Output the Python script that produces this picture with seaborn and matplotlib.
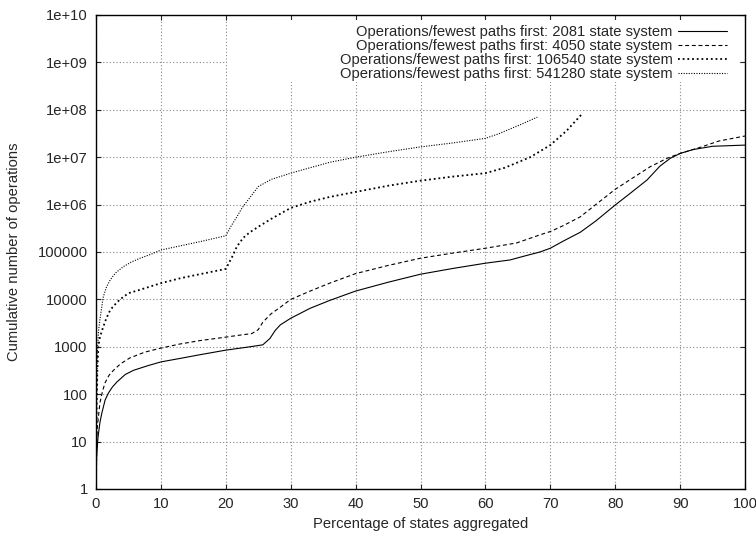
import numpy as np
import pandas as pd
import seaborn as sns
import matplotlib.pyplot as plt
from matplotlib.ticker import FuncFormatter, NullLocator, FixedLocator
from matplotlib.patches import Rectangle

# data
names = ['2081', '4050', '106540', '541280']

pct_2081 = [0, 0.1, 0.3, 0.6, 0.9, 1.4, 1.9, 2.5, 3.2, 4.5, 5.8, 8, 10, 13, 16, 20,
            23.7, 25.7, 26.8, 27.6, 28.4, 30, 33, 36, 40, 45, 50, 55, 60, 63.8, 66,
            68.4, 70, 72, 74.6, 77, 80, 82, 84.9, 86.9, 88.5, 90, 92, 95, 100]
ops_2081 = [1, 5, 12, 25, 40, 75, 105, 140, 180, 260, 320, 400, 480, 570, 680, 850,
            1000, 1100, 1500, 2200, 2900, 4000, 6500, 9500, 1.5e4, 2.3e4, 3.4e4, 4.5e4,
            5.8e4, 6.8e4, 8.2e4, 1e5, 1.2e5, 1.7e5, 2.6e5, 4.5e5, 9.8e5, 1.6e6, 3.3e6,
            6.5e6, 9.5e6, 1.2e7, 1.45e7, 1.7e7, 1.8e7]

pct_4050 = [0, 0.1, 0.2, 0.6, 1.0, 1.4, 2.0, 2.7, 3.8, 5.2, 7.5, 10, 13, 16, 20, 22,
            24, 25, 25.7, 27, 28.5, 30, 33, 36, 40, 45, 50, 55, 60, 64.8, 68.4, 70, 72,
            74.6, 77, 80, 82.5, 85.4, 88, 90, 93, 96, 100]
ops_4050 = [1, 8, 20, 65, 115, 175, 250, 320, 440, 580, 770, 940, 1150, 1350, 1600,
            1750, 1900, 2300, 3300, 5000, 7000, 1e4, 1.5e4, 2.2e4, 3.5e4, 5.2e4, 7.4e4,
            9.5e4, 1.2e5, 1.55e5, 2.3e5, 2.7e5, 3.6e5, 5.5e5, 1e6, 2.1e6, 3.5e6, 6.3e6,
            9.5e6, 1.2e7, 1.6e7, 2.2e7, 2.8e7]

pct_106540 = [0, 0.1, 0.2, 0.36, 0.6, 1.1, 1.6, 2.2, 3.0, 3.7, 5, 6.8, 10, 13, 16, 20,
              21, 21.7, 22.7, 23.7, 25, 27, 30, 33, 36, 40, 45, 50, 55, 60, 63, 66.9,
              70, 72.5, 75]
ops_106540 = [1, 50, 300, 1000, 1600, 2600, 4000, 6000, 8000, 1e4, 1.35e4, 1.6e4, 2.2e4,
              2.8e4, 3.4e4, 4.4e4, 8e4, 1.3e5, 2e5, 2.6e5, 3.4e5, 5e5, 8.5e5, 1.15e6,
              1.45e6, 1.85e6, 2.5e6, 3.2e6, 3.9e6, 4.6e6, 6e6, 1e7, 1.8e7, 3.6e7, 8.5e7]

pct_541280 = [0, 0.1, 0.2, 0.4, 0.6, 1.1, 1.6, 2.2, 3, 4.2, 5.5, 6.8, 8.5, 10, 13, 16, 20,
              20.8, 21.7, 22.5, 23.7, 25, 27, 30, 33, 36, 40, 45, 50, 55, 60, 62, 65.3, 68]
ops_541280 = [1, 100, 800, 2200, 3700, 1.1e4, 1.8e4, 2.6e4, 3.6e4, 4.9e4, 6.2e4, 7.4e4,
              9e4, 1.1e5, 1.35e5, 1.65e5, 2.2e5, 3.5e5, 5.5e5, 8.5e5, 1.4e6, 2.4e6, 3.4e6,
              4.6e6, 6e6, 7.8e6, 1e7, 1.3e7, 1.65e7, 2e7, 2.5e7, 3.1e7, 4.8e7, 7e7]

series = {
    '2081': (pct_2081, ops_2081),
    '4050': (pct_4050, ops_4050),
    '106540': (pct_106540, ops_106540),
    '541280': (pct_541280, ops_541280),
}

# line styles per series (gnuplot-like)
styles = {
    '2081': dict(lw=0.8, ls='-'),
    '4050': dict(lw=0.8, ls=(0, (3.5, 2.5))),
    '106540': dict(lw=1.3, ls=(0, (1, 1.6))),
    '541280': dict(lw=0.8, ls=(0, (1, 1.3))),
}

sns.set_style('ticks')
plt.rcParams['font.family'] = ['Liberation Sans', 'DejaVu Sans']
fs = 10.6

fig = plt.figure(figsize=(7.56, 5.38), dpi=100)
ax = fig.add_axes([96 / 756, 1 - 489 / 538, 649 / 756, 474 / 538])

for name in names:
    x, y = series[name]
    df = pd.DataFrame({'pct': x, 'ops': y})
    sns.lineplot(data=df, x='pct', y='ops', ax=ax, color='black', sort=False,
                 label=f'Operations/fewest paths first: {name} state system',
                 linewidth=styles[name]['lw'], linestyle=styles[name]['ls'])

ax.set_yscale('log')
ax.set_xlim(0, 100)
ax.set_ylim(1, 1e10)
ax.set_xticks(np.arange(0, 101, 10))
ax.yaxis.set_major_locator(FixedLocator(10.0 ** np.arange(0, 11)))
ax.yaxis.set_minor_locator(NullLocator())


def fmt(v, pos):
    if v < 1e6:
        return f'{int(round(v))}'
    return f'1e+{int(round(np.log10(v))):02d}'


ax.yaxis.set_major_formatter(FuncFormatter(fmt))
ax.tick_params(direction='in', length=3.6, width=0.8, top=True, right=True,
               labelsize=fs, pad=6)
ax.set_axisbelow(True)
ax.grid(True, which='major', color='#888888', linestyle=(0, (1, 2)), linewidth=0.8)
for s in ax.spines.values():
    s.set_linewidth(1.0)
    s.set_color('black')

ax.set_xlabel('Percentage of states aggregated', fontsize=fs, labelpad=4)
ax.set_ylabel('Cumulative number of operations', fontsize=fs, labelpad=12)

# white key background like gnuplot
ax.add_patch(Rectangle((0.202, 0.859), 0.79, 0.1305, transform=ax.transAxes,
                       facecolor='white', edgecolor='none', zorder=1))

leg = ax.legend(loc='upper right', bbox_to_anchor=(1 - 18 / 649, 1 - 10 / 474),
                borderaxespad=0, borderpad=0, frameon=False, markerfirst=False,
                fontsize=fs, handlelength=3.3, handletextpad=0.4, labelspacing=0.0)

fig.savefig('out.png', dpi=100)
